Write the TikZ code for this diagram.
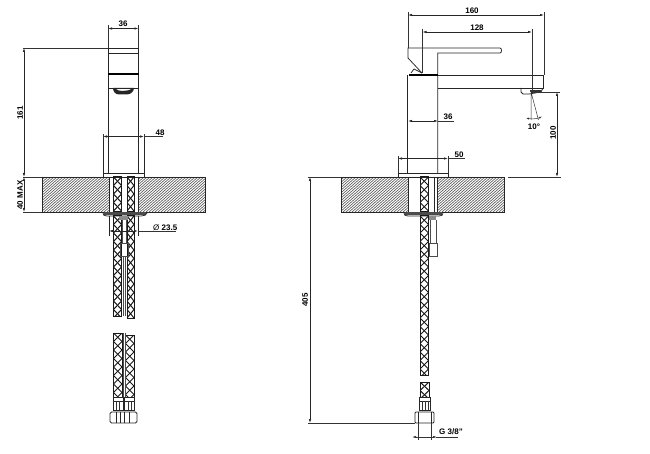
\documentclass[tikz,border=0pt]{standalone}
\usepackage{fontspec}
\setmainfont{Liberation Sans}
\usetikzlibrary{arrows.meta}
\tikzset{
  part/.style={line width=0.75pt,draw=black!85},
  thin part/.style={line width=0.5pt,draw=black!70},
  heavy/.style={line width=1.3pt,draw=black},
  dimline/.style={line width=0.55pt,draw=black!85,{Latex[length=4pt,width=2.4pt]}-{Latex[length=4pt,width=2.4pt]}},
  ext/.style={line width=0.5pt,draw=black!80},
  lab/.style={font=\bfseries\fontsize{8}{8}\selectfont,inner sep=0pt,text=black},
  vlab/.style={lab,rotate=90},
}
% hose: x left, x right, y top, y bottom
\newcommand{\hosepipe}[4]{%
  \draw[line width=1pt,draw=black!90] (#1,#3) -- (#1,#4) -- (#2,#4) -- (#2,#3) -- cycle;
  \pgfmathtruncatemacro{\hn}{floor((#4-#3)/8.5)}
  \begin{scope}
  \clip (#1,#3) rectangle (#2,#4);
  \foreach \hi in {0,...,\hn}{
    \pgfmathsetmacro{\ya}{#3+\hi*8.5}
    \pgfmathsetmacro{\yb}{\ya+8.5}
    \draw[line width=1pt,black!90] (#1,\ya) -- (#2,\yb);
    \draw[line width=1pt,black!90] (#2,\ya) -- (#1,\yb);
  }
  \end{scope}
}
\newcommand{\hatchslab}[4]{%
  \begin{scope}
  \clip (#1,#3) rectangle (#2,#4);
  \foreach \hd in {0,3,...,240}{
    \draw[line width=0.6pt,black!70] (#1+\hd-40,#4) -- (#1+\hd,#3);
  }
  \end{scope}
  \draw[part] (#1,#3) rectangle (#2,#4);
}
\begin{document}
\begin{tikzpicture}[x=1pt,y=-1pt]
\useasboundingbox (0,0) rectangle (650,454);
%%%%%%%% LEFT VIEW
\hatchslab{42}{205}{177}{212}
\fill[white] (109,177) rectangle (138,212);
\draw[part] (109,177) -- (109,212) (138,177) -- (138,212);
% body
\draw[part] (108,48) -- (138.5,48) -- (138.5,173) (108,48) -- (108,173);
\draw[part] (108,53) -- (138.5,53);
\draw[heavy] (108,74) -- (138.5,74);
\draw[part] (108,88) -- (138.5,88);
\fill[black!85] (113,88) -- (134,88) .. controls (134,91) and (131,94.5) .. (127,94.5) -- (119,94.5) .. controls (115,94.5) and (113,91) .. (113,88) -- (116,89) .. controls (117,91.5) and (129,91.5) .. (131,89) -- cycle;
% base
\draw[part] (103,136) -- (103,173) (144,136) -- (144,173);
\draw[part] (103,173) rectangle (144,177);
% hoses upper
\hosepipe{113.5}{121.5}{177}{212}
\hosepipe{127}{134}{177}{212}
\fill[black!70] (104,212) rectangle (146,215);
\draw[part] (103,213) .. controls (103,215) and (104,216) .. (107,216) -- (141,216) .. controls (144,216) and (147,215) .. (147,213);
\hosepipe{113.5}{121.5}{216}{316}
\hosepipe{127}{134}{216}{318}
\fill[white] (122,216) rectangle (126.5,318);
\fill[black!45] (119,216) rectangle (128,220);
\draw[part] (109,216) -- (109,236) (138,216) -- (138,236);
\draw[thin part] (120.5,243) rectangle (128,256);
\draw[thin part] (122,220) -- (122,243) (126,220) -- (126,243);
\draw[thin part] (123.5,256) -- (123.5,316) (125.5,256) -- (125.5,316);
% lower
\hosepipe{113.5}{122}{333}{397}
\hosepipe{125.5}{134}{335}{397}
\draw[thin part] (123,333) -- (123,397) (125,333) -- (125,397);
\draw[part] (113,397) rectangle (123,401) (124.5,397) rectangle (134.5,401);
\draw[part] (113,401) rectangle (123,410) (124.5,401) rectangle (134.5,410);
\foreach \vx in {116,119,128,131}{\draw[line width=0.9pt,black!80] (\vx,401) -- (\vx,410);}
\draw[part,rounded corners=1.5pt] (110,412) rectangle (137,423);
\draw[part] (116,412) -- (116,423) (120,412) -- (120,423) (124,412) -- (124,423) (129,412) -- (129,423);
% left dims
\node[lab] (lA) at (123,24) {36};
\draw[ext] (108,25) -- (108,48) (138.5,25) -- (138.5,48);
\draw[dimline] (108,28.5) -- (138.5,28.5);
\draw[ext] (23,48) -- (108,48);
\draw[ext] (23,177) -- (42,177) (23,212) -- (42,212);
\draw[dimline] (24,48) -- (24,177);
\draw[dimline] (24,177) -- (24,212);
\node[vlab] (lB) at (20,113) {161};
\node[vlab] (lC) at (20,195) {40 MAX};
\draw[ext] (103,134) -- (103,140) (144,134) -- (144,140);
\draw[dimline] (103,136.5) -- (144,136.5);
\draw[ext] (144,136.5) -- (163,136.5);
\node[lab] (lD) at (160,132.5) {48};
\draw[dimline] (109,231) -- (138,231);
\draw[ext] (138,231) -- (176,231);
\node[lab,anchor=west] (lE) at (153,227.5) {{\mdseries Ø} 23.5};
%%%%%%%% RIGHT VIEW
\draw[ext] (308,177) -- (503,177) (508,177) -- (561,177);
\hatchslab{341}{504}{177}{212}
\fill[white] (408,177) rectangle (437,212);
\draw[part] (408,177) -- (408,212) (437,177) -- (437,212);
% handle
\draw[part] (408,58) -- (408,48) -- (500,48) .. controls (502,48) and (502,53) .. (500,53) -- (437.7,53) -- (437.7,173);
\draw[part] (408,58) -- (422,73);
\draw[part] (411,73) -- (414,69) -- (422,73);
\draw[line width=1.6pt,black] (409,75) -- (438,75);
\draw[part] (438,75) -- (543.5,75) -- (543.5,88) -- (437.7,88);
\draw[part] (407.5,75) -- (407.5,173);
% aerator
\draw[part] (521,88) -- (521,92) -- (523,94) -- (529,94) -- (541,92) -- (543,88);
\fill[black!80] (530,90.5) rectangle (541,92.5);
% base
\draw[part] (398,173) rectangle (448,177);
% hose
\hosepipe{420}{428.5}{177}{212}
\draw[part] (434,177) -- (434,212);
\fill[black!70] (405,212) rectangle (442,215);
\draw[part] (404,213) .. controls (404,215) and (405,216) .. (408,216) -- (439,216) .. controls (442,216) and (443,215) .. (443,213);
\fill[black!45] (429,216) rectangle (436,220);
\draw[thin part] (430,220) -- (430,243) (436,220) -- (436,243);
\draw[thin part] (429,243) rectangle (437,256);
\hosepipe{420}{428.5}{216}{375}
\hosepipe{420}{429}{382}{397}
\draw[part] (419,397) rectangle (430,401) (419,401) rectangle (430,410);
\foreach \vx in {422,425,428}{\draw[line width=0.9pt,black!80] (\vx,401) -- (\vx,410);}
\draw[part,rounded corners=1pt] (415,412) rectangle (434,423);
\draw[part] (418,412) -- (418,423) (431,412) -- (431,423);
% right dims
\draw[ext] (408,12) -- (408,48) (544,12) -- (544,75);
\draw[dimline] (408,15) -- (544,15);
\node[lab] (rA) at (472,11) {160};
\draw[ext] (422.5,29) -- (422.5,73) (532,29) -- (532,92);
\draw[dimline] (422.5,32) -- (532,32);
\node[lab] (rB) at (477,28) {128};
\draw[dimline] (408,121) -- (438,121);
\draw[ext] (438,121) -- (454,121);
\node[lab] (rC) at (448,117) {36};
\draw[ext] (398,156) -- (398,173) (448,156) -- (448,173);
\draw[dimline] (398,158.5) -- (448,158.5);
\draw[ext] (448,158.5) -- (465,158.5);
\node[lab] (rD) at (459,155) {50};
\draw[ext] (531,92) -- (560,92);
\draw[dimline] (557,92) -- (557,177);
\node[vlab] (rE) at (553,133) {100};
\draw[ext] (531,92) -- (531,120) (531,92) -- (538.5,120);
\draw[ext,{Latex[length=3pt,width=2pt]}-{Latex[length=3pt,width=2pt]}] (526,118) .. controls (531,119) and (537,119) .. (542,116.5);
\node[lab] (rF) at (534,127) {10°};
\draw[ext] (308,423) -- (415,423);
\draw[dimline] (310,177) -- (310,423);
\node[vlab] (rG) at (305,300) {405};
\draw[ext] (418,423) -- (418,440) (431,423) -- (431,440);
\draw[ext,{Latex[length=4pt,width=2.2pt]}-] (412,437) -- (418,437);
\draw[ext] (418,437) -- (431,437);
\draw[ext,-{Latex[length=4pt,width=2.2pt]}] (431,437) -- (437,437);
\draw[ext] (436,437) -- (458,437);
\node[lab] (rH) at (451,432) {G 3/8"};
\end{tikzpicture}
\end{document}
